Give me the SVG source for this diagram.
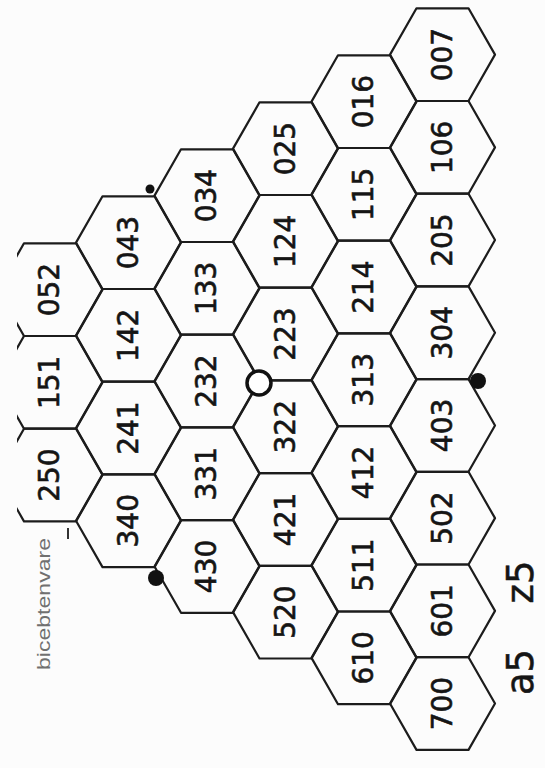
<svg xmlns="http://www.w3.org/2000/svg" xmlns:xlink="http://www.w3.org/1999/xlink" width="545" height="768" viewBox="0 0 545 768">
<style>
.hex{fill:none;stroke:#1c1c1c;stroke-width:2.2;stroke-linejoin:round}
.lbl{font-family:"DejaVu Sans","Liberation Sans",sans-serif;font-size:28px;fill:#151515;stroke:#151515;stroke-width:0.6;text-anchor:middle}
.big{font-family:"DejaVu Sans","Liberation Sans",sans-serif;font-size:37px;fill:#151515;stroke:#151515;stroke-width:0.5;text-anchor:middle}
.note{font-family:"Liberation Sans","DejaVu Sans",sans-serif;font-size:18px;fill:#707070;text-anchor:middle}
.dot{fill:#111}
</style>
<defs>
<polygon id="hx" class="hex" points="-26,-46.35 26,-46.35 52.5,0 26,46.35 -26,46.35 -52.5,0"/>
<clipPath id="clipL" clipPathUnits="userSpaceOnUse"><rect x="17" y="0" width="528" height="768"/></clipPath>
</defs>
<rect width="545" height="768" fill="#fcfcfc"/>
<g id="nodes">
<g id="n007" transform="translate(442.5,54.65)"><use xlink:href="#hx"/><text class="lbl" transform="rotate(-90)" y="9">007</text></g>
<g id="n106" transform="translate(442.5,147.35)"><use xlink:href="#hx"/><text class="lbl" transform="rotate(-90)" y="9">106</text></g>
<g id="n205" transform="translate(442.5,240.05)"><use xlink:href="#hx"/><text class="lbl" transform="rotate(-90)" y="9">205</text></g>
<g id="n304" transform="translate(442.5,332.75)"><use xlink:href="#hx"/><text class="lbl" transform="rotate(-90)" y="9">304</text></g>
<g id="n403" transform="translate(442.5,425.45)"><use xlink:href="#hx"/><text class="lbl" transform="rotate(-90)" y="9">403</text></g>
<g id="n502" transform="translate(442.5,518.15)"><use xlink:href="#hx"/><text class="lbl" transform="rotate(-90)" y="9">502</text></g>
<g id="n601" transform="translate(442.5,610.85)"><use xlink:href="#hx"/><text class="lbl" transform="rotate(-90)" y="9">601</text></g>
<g id="n700" transform="translate(442.5,703.55)"><use xlink:href="#hx"/><text class="lbl" transform="rotate(-90)" y="9">700</text></g>

<g id="n016" transform="translate(364,101.65)"><use xlink:href="#hx"/><text class="lbl" transform="rotate(-90)" y="9">016</text></g>
<g id="n115" transform="translate(364,194.35)"><use xlink:href="#hx"/><text class="lbl" transform="rotate(-90)" y="9">115</text></g>
<g id="n214" transform="translate(364,287.05)"><use xlink:href="#hx"/><text class="lbl" transform="rotate(-90)" y="9">214</text></g>
<g id="n313" transform="translate(364,379.75)"><use xlink:href="#hx"/><text class="lbl" transform="rotate(-90)" y="9">313</text></g>
<g id="n412" transform="translate(364,472.45)"><use xlink:href="#hx"/><text class="lbl" transform="rotate(-90)" y="9">412</text></g>
<g id="n511" transform="translate(364,565.15)"><use xlink:href="#hx"/><text class="lbl" transform="rotate(-90)" y="9">511</text></g>
<g id="n610" transform="translate(364,657.85)"><use xlink:href="#hx"/><text class="lbl" transform="rotate(-90)" y="9">610</text></g>

<g id="n025" transform="translate(285.5,148.65)"><use xlink:href="#hx"/><text class="lbl" transform="rotate(-90)" y="9">025</text></g>
<g id="n124" transform="translate(285.5,241.35)"><use xlink:href="#hx"/><text class="lbl" transform="rotate(-90)" y="9">124</text></g>
<g id="n223" transform="translate(285.5,334.05)"><use xlink:href="#hx"/><text class="lbl" transform="rotate(-90)" y="9">223</text></g>
<g id="n322" transform="translate(285.5,426.75)"><use xlink:href="#hx"/><text class="lbl" transform="rotate(-90)" y="9">322</text></g>
<g id="n421" transform="translate(285.5,519.45)"><use xlink:href="#hx"/><text class="lbl" transform="rotate(-90)" y="9">421</text></g>
<g id="n520" transform="translate(285.5,612.15)"><use xlink:href="#hx"/><text class="lbl" transform="rotate(-90)" y="9">520</text></g>

<g id="n034" transform="translate(207,195.65)"><use xlink:href="#hx"/><text class="lbl" transform="rotate(-90)" y="9">034</text></g>
<g id="n133" transform="translate(207,288.35)"><use xlink:href="#hx"/><text class="lbl" transform="rotate(-90)" y="9">133</text></g>
<g id="n232" transform="translate(207,381.05)"><use xlink:href="#hx"/><text class="lbl" transform="rotate(-90)" y="9">232</text></g>
<g id="n331" transform="translate(207,473.75)"><use xlink:href="#hx"/><text class="lbl" transform="rotate(-90)" y="9">331</text></g>
<g id="n430" transform="translate(207,566.45)"><use xlink:href="#hx"/><text class="lbl" transform="rotate(-90)" y="9">430</text></g>

<g id="n043" transform="translate(128.5,242.65)"><use xlink:href="#hx"/><text class="lbl" transform="rotate(-90)" y="9">043</text></g>
<g id="n142" transform="translate(128.5,335.35)"><use xlink:href="#hx"/><text class="lbl" transform="rotate(-90)" y="9">142</text></g>
<g id="n241" transform="translate(128.5,428.05)"><use xlink:href="#hx"/><text class="lbl" transform="rotate(-90)" y="9">241</text></g>
<g id="n340" transform="translate(128.5,520.75)"><use xlink:href="#hx"/><text class="lbl" transform="rotate(-90)" y="9">340</text></g>

<g clip-path="url(#clipL)">
<g id="n052" transform="translate(50,289.65)"><use xlink:href="#hx"/><text class="lbl" transform="rotate(-90)" y="9">052</text></g>
<g id="n151" transform="translate(50,382.35)"><use xlink:href="#hx"/><text class="lbl" transform="rotate(-90)" y="9">151</text></g>
<g id="n250" transform="translate(50,475.05)"><use xlink:href="#hx"/><text class="lbl" transform="rotate(-90)" y="9">250</text></g>
</g>
</g>
<g id="connectors"></g>
<g id="markers">
<circle class="dot" cx="150" cy="189" r="4.5"/>
<circle cx="259" cy="383" r="12" fill="#fff" stroke="#111" stroke-width="3.5"/>
<circle class="dot" cx="478" cy="381" r="8"/>
<circle class="dot" cx="156" cy="578" r="8"/>
<line x1="68" y1="528" x2="68" y2="539" stroke="#333" stroke-width="2"/>
</g>
<g id="labels">
<text class="big" transform="translate(533,672) rotate(-90)">a5</text>
<text class="big" transform="translate(533,582) rotate(-90)">z5</text>
<text class="note" transform="translate(50,604) rotate(-90)" textLength="132" lengthAdjust="spacingAndGlyphs">bicebtenvare</text>
</g>
</svg>
